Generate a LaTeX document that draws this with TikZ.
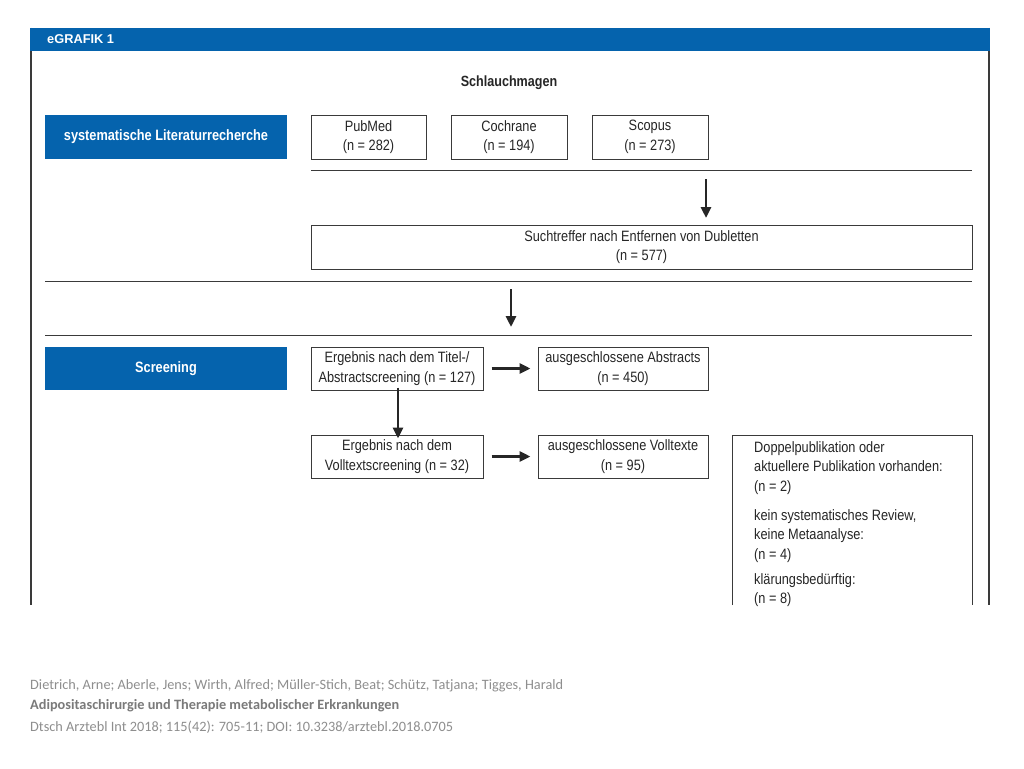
\documentclass[tikz,border=0pt]{standalone}
\usepackage{fontspec}
\setmainfont{Liberation Sans}
\newfontfamily\narrowfont[FakeStretch=0.85]{Liberation Sans}
\newfontfamily\footfont{Carlito}
\usetikzlibrary{arrows.meta}
\definecolor{dblue}{HTML}{0563AD}
\definecolor{frame}{HTML}{3A3A3A}
\definecolor{footgray}{HTML}{8E8E8E}
\definecolor{footdark}{HTML}{7A7A7A}
\tikzset{
  box/.style={draw=frame, line width=1pt, fill=white, inner sep=0pt, align=center,
    font=\narrowfont\fontsize{15}{19.5}\selectfont, text=black!85},
  bluebox/.style={fill=dblue, inner sep=0pt, align=center, text=white,
    font=\narrowfont\bfseries\fontsize{15}{17}\selectfont},
  divider/.style={draw=frame, line width=1pt},
  thickarrow/.style={draw=black!85, line width=2.8pt, -{Triangle[length=11pt,width=10pt]}},
  foot/.style={anchor=west, inner sep=0pt, font=\footfont\fontsize{14.3}{16}\selectfont, text=footgray}
}
\begin{document}
\begin{tikzpicture}[x=1pt,y=-1pt]
\useasboundingbox (0,0) rectangle (1024,768);
\fill[white] (0,0) rectangle (1024,768);
% outer frame
\draw[frame, line width=2pt] (31,28) -- (31,605);
\draw[frame, line width=2pt] (989,28) -- (989,605);
\fill[dblue] (30,28) rectangle (990,51);
\node[anchor=west, inner sep=0pt, text=white, font=\bfseries\fontsize{12.8}{15}\selectfont] (title) at (47,39.5) {eGRAFIK 1};
\node[inner sep=0pt, font=\narrowfont\bfseries\fontsize{14.8}{16}\selectfont, text=black!85] (head) at (509,83) {Schlauchmagen};
% row 1
\node[bluebox, minimum width=242pt, minimum height=44pt] (lit) at (166,137) {systematische Literaturrecherche};
\node[box, minimum width=115pt, minimum height=44pt] (pubmed) at (368.5,137) {PubMed\\(n = 282)};
\node[box, minimum width=116pt, minimum height=44pt] (cochrane) at (509,137) {Cochrane\\(n = 194)};
\node[box, minimum width=116pt, minimum height=44pt] (scopus) at (650,137) {Scopus\\(n = 273)};
\coordinate (l1a) at (311,170);
\coordinate (l1b) at (972,170);
\draw[divider] (l1a) -- (l1b);
\node[box, minimum width=661pt, minimum height=44pt] (such) at (641.5,247) {Suchtreffer nach Entfernen von Dubletten\\(n = 577)};
\coordinate (a1s) at (706,179);
\coordinate (a1e) at (706,218);
\draw[thickarrow] (a1s) -- (a1e);
% dividers
\coordinate (l2a) at (45,281);
\coordinate (l2b) at (972,281);
\coordinate (l3a) at (45,335);
\coordinate (l3b) at (972,335);
\draw[divider] (l2a) -- (l2b);
\draw[divider] (l3a) -- (l3b);
\coordinate (a2s) at (511,289);
\coordinate (a2e) at (511,327);
\draw[thickarrow] (a2s) -- (a2e);
% screening
\node[bluebox, minimum width=242pt, minimum height=43pt] (scr) at (166,368.5) {Screening};
\node[box, minimum width=172pt, minimum height=43pt] (titel) at (397,368.5) {Ergebnis nach dem Titel-/\\Abstractscreening (n = 127)};
\node[box, minimum width=170pt, minimum height=43pt] (abs) at (623,368.5) {ausgeschlossene Abstracts\\(n = 450)};
\node[box, minimum width=172pt, minimum height=43pt] (voll) at (397,456.5) {Ergebnis nach dem\\Volltextscreening (n = 32)};
\node[box, minimum width=170pt, minimum height=43pt] (vollex) at (623,456.5) {ausgeschlossene Volltexte\\(n = 95)};
\draw[thickarrow] ([xshift=8pt]titel.east) -- ([xshift=-7pt]abs.west);
\draw[thickarrow] ([xshift=8pt]voll.east) -- ([xshift=-7pt]vollex.west);
\draw[thickarrow] ([xshift=1pt,yshift=3pt]titel.south) -- ([xshift=1pt,yshift=-4pt]voll.north);
% right open box
\coordinate (rb1) at (732,605);
\coordinate (rb2) at (732,435);
\coordinate (rb3) at (972,435);
\coordinate (rb4) at (972,605);
\draw[frame, line width=1pt] (rb1) -- (rb2) -- (rb3) -- (rb4);
\node[anchor=north west, inner sep=0pt, align=left, font=\narrowfont\fontsize{15}{19.5}\selectfont, text=black!85] (reasons) at (754,441)
 {Doppelpublikation oder\\aktuellere Publikation vorhanden:\\(n = 2)\\[9.5pt]
  kein systematisches Review,\\keine Metaanalyse:\\(n = 4)\\[5.5pt]
  klärungsbedürftig:\\(n = 8)};
% footer
\node[foot] (f1) at (30,686) {Dietrich, Arne; Aberle, Jens; Wirth, Alfred; Müller-Stich, Beat; Schütz, Tatjana; Tigges, Harald};
\node[foot, text=footdark, font=\footfont\bfseries\fontsize{14.3}{16}\selectfont] (f2) at (30,706) {Adipositaschirurgie und Therapie metabolischer Erkrankungen};
\node[foot] (f3) at (30,727) {Dtsch Arztebl Int 2018; 115(42): 705-11; DOI: 10.3238/arztebl.2018.0705};
\end{tikzpicture}
\end{document}
